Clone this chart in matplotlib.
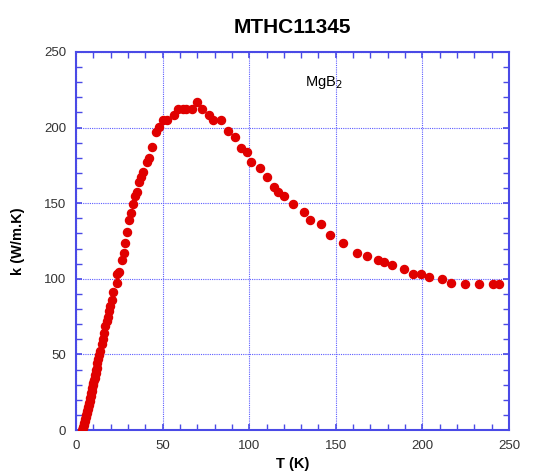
import numpy as np
import matplotlib
matplotlib.use("Agg")
import matplotlib.pyplot as plt
from matplotlib.ticker import MultipleLocator

plt.rcParams['font.family'] = ['Liberation Sans', 'DejaVu Sans']

# thermal conductivity of MgB2
T = [3.5, 3.8, 4.1, 4.4, 4.7, 5.0, 5.3, 5.6, 5.9, 6.2, 6.5, 6.8, 7.1, 7.4, 7.7,
     8.0, 8.3, 8.6, 8.9, 9.2, 9.5, 9.8, 10.1, 10.4, 10.7, 11.0, 11.3, 11.6, 11.9,
     12.3, 12.8, 13.3, 13.9, 14.8, 15.4, 16.4, 16.9, 17.7, 18.3, 19.1, 19.6, 20.6,
     21.6, 23.5, 23.9, 24.8, 26.4, 27.7, 28.1, 29.2, 30.6, 31.7, 33.1, 34.0, 35.2,
     36.5, 37.3, 38.8, 40.8, 41.9, 43.7, 46.2, 48.1, 50.4, 52.3, 56.5, 59.0, 61.5,
     63.8, 66.7, 69.6, 72.5, 76.7, 79.2, 83.5, 87.5, 91.7, 95.0, 98.8, 101.3,
     106.2, 110.0, 114.2, 116.7, 120.0, 125.4, 131.5, 135.0, 141.7, 146.9, 154.4,
     162.1, 168.2, 174.2, 178.1, 182.7, 189.4, 194.4, 199.0, 204.0, 211.2, 216.4,
     224.6, 232.7, 241.0, 244.1]
k = [0.2, 1.1, 2.2, 3.4, 4.6, 5.9, 7.2, 8.5, 9.8, 11.1, 12.5, 13.9, 15.3, 16.7, 18.1,
     19.5, 21.1, 22.7, 24.4, 26.1, 27.8, 29.5, 31.2, 32.9, 34.6, 36.3, 38.0, 39.7, 41.3,
     44.6, 47.0, 49.7, 52.3, 56.7, 60.0, 64.4, 68.8, 72.1, 74.7, 78.7, 82.0, 85.7,
     91.2, 97.4, 102.9, 104.6, 112.7, 117.1, 123.7, 131.0, 138.7, 143.8, 149.8, 154.9, 157.7,
     163.7, 167.0, 170.4, 177.0, 179.9, 186.9, 197.3, 200.7, 205.1, 205.1, 208.4, 212.2, 212.2,
     212.2, 212.2, 216.8, 212.0, 208.4, 205.1, 205.1, 197.6, 193.6, 186.5, 183.6, 177.0,
     173.2, 167.5, 160.8, 157.7, 154.9, 149.8, 144.0, 138.9, 136.5, 129.0, 123.7,
     117.1, 114.9, 112.7, 111.2, 109.2, 106.8, 103.5, 103.5, 101.3, 99.6, 97.4,
     96.3, 96.3, 96.3, 96.3]

blue = '#4a4ae6'

fig = plt.figure(figsize=(5.34, 4.74), dpi=100)
ax = fig.add_axes([0.1423, 0.0928, 0.9532 - 0.1423, 0.8903 - 0.0928])

ax.plot(T, k, 'o', color='#e00000', ms=5.8, mec='#e00000', zorder=3)

ax.set_xlim(0, 250)
ax.set_ylim(0, 250)
ax.xaxis.set_major_locator(MultipleLocator(50))
ax.xaxis.set_minor_locator(MultipleLocator(10))
ax.yaxis.set_major_locator(MultipleLocator(50))
ax.yaxis.set_minor_locator(MultipleLocator(10))

ax.grid(True, which='major', color='#5c5cff', linestyle=(0, (1, 1)), linewidth=0.8)
for s in ax.spines.values():
    s.set_color(blue)
    s.set_linewidth(1.5)
ax.tick_params(which='both', direction='in', top=True, right=True, color=blue,
               labelsize=9.5, labelcolor='#333333', pad=7)
ax.tick_params(which='major', length=4, width=1.2)
ax.tick_params(which='minor', length=4, width=1.0)

ax.set_xlabel('T (K)', fontsize=10.5, fontweight='bold', labelpad=4)
ax.set_ylabel('k (W/m.K)', fontsize=10.5, fontweight='bold', labelpad=14)
ax.set_title('MTHC11345', fontsize=15, fontweight='bold', pad=14)

ax.text(132, 230, 'MgB$_2$', fontsize=10.5, ha='left', va='center')

fig.savefig('out.png', dpi=100)
